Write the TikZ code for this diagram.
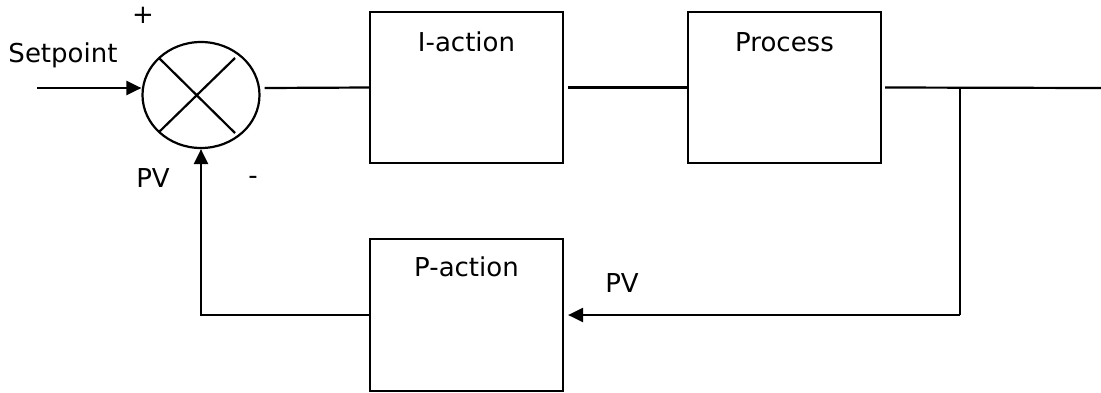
\documentclass[tikz,border=0pt]{standalone}
\usepackage{fontspec}
\setmainfont{DejaVu Sans}
\usetikzlibrary{shapes.geometric,arrows.meta,calc}
\begin{document}
\begin{tikzpicture}[x=1pt,y=-1pt,
  line width=2.2pt,
  every node/.style={font=\fontsize{26}{30}\selectfont},
  blockbox/.style={draw,rectangle,minimum width=193pt,minimum height=151pt,inner sep=0pt},
  sumnode/.style={draw,ellipse,minimum width=117pt,minimum height=106pt,inner sep=0pt},
  arr/.style={-{Triangle[length=15pt,width=14pt]}},
  txt/.style={inner sep=0pt,anchor=center}]
\useasboundingbox (0,0) rectangle (1101,392);
\node[sumnode] (sum) at (201,95) {};
\node[blockbox,label={[txt,yshift=-31pt]north:I-action}] (iact) at (466.5,87.5) {};
\node[blockbox,label={[txt,yshift=-31pt]north:Process}] (proc) at (784.5,87.5) {};
\node[blockbox,minimum height=152pt,label={[txt,yshift=-29pt]north:P-action}] (pact) at (466.5,315) {};
\coordinate (sp) at (37,88);
\coordinate (out) at (1101,88);
\coordinate (br) at (960,88);
\coordinate (fb) at (960,315);
\draw ($(sum.center)+(-42,-37)$) -- ($(sum.center)+(34,38)$);
\draw ($(sum.center)+(34,-37)$) -- ($(sum.center)+(-42,37)$);
\draw[arr] (sp) -- (sp -| sum.west);
\draw ($(sum.east |- sp)+(4,0)$) -- (iact.west);
\draw ([xshift=4pt]iact.east) -- (proc.west);
\draw ([xshift=3pt]proc.east) -- (out);
\draw (br) -- (fb);
\draw[arr,shorten >=4pt] (fb) -- (pact.east);
\draw[arr] (pact.west) -| (sum.south);
\node[txt] (plus) at (143,15) {+};
\node[txt] (setp) at (63,55) {Setpoint};
\node[txt] (pv1) at (153,178) {PV};
\node[txt] (minus) at (253,180) {-};
\node[txt] (pv2) at (622,283) {PV};
\end{tikzpicture}
\end{document}
